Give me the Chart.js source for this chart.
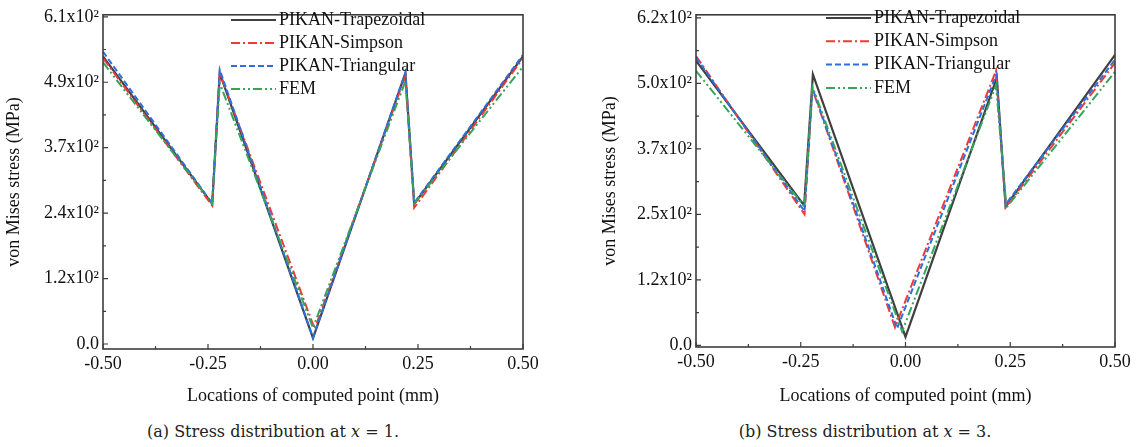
<!DOCTYPE html>
<html lang="en">
<head>
<meta charset="UTF-8">
<title>Stress distribution</title>
<style>
  body { margin: 0; background: #fff; }
  #wrap { position: relative; width: 1140px; height: 447px; }
  .box { position: absolute; top: 0; width: 570px; height: 410px; }
  .cap {
    position: absolute; top: 422px;
    font-family: 'DejaVu Serif', serif; font-size: 16px; color: #222;
    white-space: nowrap; transform: translateX(-50%);
  }
</style>
<script src="https://cdn.jsdelivr.net/npm/chart.js@4.4.3/dist/chart.umd.min.js"></script>
</head>
<body>
<div id="wrap">
  <div class="box" style="left:0"><canvas id="chartA"></canvas></div>
  <div class="box" style="left:570px"><canvas id="chartB"></canvas></div>
  <div class="cap" style="left:273px">(a) Stress distribution at <i>x</i> = 1.</div>
  <div class="cap" style="left:865px">(b) Stress distribution at <i>x</i> = 3.</div>
</div>
<script>
// shared axis / legend text
const seriesNames = ['PIKAN-Trapezoidal', 'PIKAN-Simpson', 'PIKAN-Triangular', 'FEM'];
const xTicks = [-0.5, -0.25, 0, 0.25, 0.5];
const xTickLabels = ['-0.50', '-0.25', '0.00', '0.25', '0.50'];

// (a) x = 1
const aYTicks = [0, 122, 244, 366, 488, 610];
const aYLabels = ['0.0', '1.2x10²', '2.4x10²', '3.7x10²', '4.9x10²', '6.1x10²'];
const aTrapX = [-0.5, -0.24, -0.222, 0, 0.22, 0.241, 0.5];
const aTrapY = [536, 261, 505, 11, 505, 261, 536];
const aSimpX = [-0.5, -0.24, -0.222, 0.004, 0.22, 0.241, 0.5];
const aSimpY = [533, 258, 505, 28, 500, 254, 533];
const aTriX = [-0.5, -0.24, -0.222, 0, 0.22, 0.241, 0.5];
const aTriY = [545, 262, 511, 12, 506, 263, 539];
const aFemX = [-0.5, -0.24, -0.222, 0, 0.22, 0.241, 0.5];
const aFemY = [525, 262, 486, 30, 490, 262, 517];

// (b) x = 3
const bYTicks = [0, 124, 248, 372, 496, 620];
const bYLabels = ['0.0', '1.2x10²', '2.5x10²', '3.7x10²', '5.0x10²', '6.2x10²'];
const bTrapX = [-0.5, -0.242, -0.221, 0, 0.218, 0.239, 0.5];
const bTrapY = [539, 265, 513, 16, 507, 263, 550];
const bSimpX = [-0.5, -0.241, -0.222, -0.025, 0.216, 0.239, 0.5];
const bSimpY = [548, 248, 485, 34, 520, 261, 535];
const bTriX = [-0.5, -0.241, -0.222, -0.02, 0.217, 0.239, 0.5];
const bTriY = [545, 254, 487, 32, 513, 267, 541];
const bFemX = [-0.5, -0.241, -0.222, -0.008, 0.216, 0.241, 0.5];
const bFemY = [520, 263, 490, 26, 492, 261, 518];

const FONT = "'Liberation Serif', 'Times New Roman', serif";
const styles = [
  { color: '#404040', dash: [], width: 2.2, order: 4 },
  { color: '#ee3a3a', dash: [9, 3, 2, 3], width: 2, order: 3 },
  { color: '#2c6fe0', dash: [6, 3], width: 2, order: 2 },
  { color: '#34a55a', dash: [9, 3, 2, 3, 2, 3], width: 2, order: 1 }
];

// frame, inward ticks (major + minor) and the legend inside the plot
const boxPlugin = {
  id: 'box',
  afterDatasetsDraw(chart, args, opts) {
    const { ctx, chartArea: a } = chart;
    const xs = chart.scales.x, ys = chart.scales.y;
    ctx.save();
    ctx.strokeStyle = '#3c3c3c';
    ctx.lineWidth = 1.6;
    ctx.strokeRect(a.left, a.top, a.right - a.left, a.bottom - a.top);

    ctx.lineWidth = 1.2;
    ctx.beginPath();
    xs.ticks.forEach((t, i) => {
      const p = xs.getPixelForValue(t.value);
      ctx.moveTo(p, a.bottom); ctx.lineTo(p, a.bottom - 5);
      if (i < xs.ticks.length - 1) {
        const m = xs.getPixelForValue((t.value + xs.ticks[i + 1].value) / 2);
        ctx.moveTo(m, a.bottom); ctx.lineTo(m, a.bottom - 3);
      }
    });
    ys.ticks.forEach((t, i) => {
      const p = ys.getPixelForValue(t.value);
      ctx.moveTo(a.left, p); ctx.lineTo(a.left + 5, p);
      if (i < ys.ticks.length - 1) {
        const m = ys.getPixelForValue((t.value + ys.ticks[i + 1].value) / 2);
        ctx.moveTo(a.left, m); ctx.lineTo(a.left + 3, m);
      }
    });
    ctx.stroke();

    // legend
    ctx.font = '18px ' + FONT;
    ctx.textBaseline = 'middle';
    ctx.fillStyle = '#111';
    chart.data.datasets.forEach((ds, i) => {
      const y = opts.y + i * opts.gap;
      ctx.beginPath();
      ctx.strokeStyle = ds.borderColor;
      ctx.lineWidth = ds.borderWidth;
      ctx.setLineDash(ds.borderDash);
      ctx.moveTo(opts.x, y); ctx.lineTo(opts.x + 45, y);
      ctx.stroke();
      ctx.setLineDash([]);
      ctx.fillText(ds.label, opts.x + 48, y);
    });
    ctx.restore();
  }
};

function makeSets(xsList, ysList) {
  return xsList.map((xv, k) => ({
    label: seriesNames[k],
    data: xv.map((x, i) => ({ x: x, y: ysList[k][i] })),
    borderColor: styles[k].color,
    borderDash: styles[k].dash,
    borderWidth: styles[k].width,
    order: styles[k].order,
    pointRadius: 0,
    fill: false,
    tension: 0
  }));
}

function makeChart(id, sets, yTicks, yLabels, yMin, yMax, pad, yWidth, xHeight, yTitlePad, legend) {
  return new Chart(document.getElementById(id), {
    type: 'line',
    data: { datasets: sets },
    plugins: [boxPlugin],
    options: {
      responsive: true,
      maintainAspectRatio: false,
      animation: false,
      layout: { padding: pad },
      plugins: {
        legend: { display: false },
        tooltip: { enabled: false },
        box: legend
      },
      scales: {
        x: {
          type: 'linear', min: -0.5, max: 0.5,
          border: { display: false },
          grid: { display: false, drawTicks: false },
          afterBuildTicks: s => { s.ticks = xTicks.map(v => ({ value: v })); },
          afterFit: s => { s.height = xHeight; },
          ticks: {
            autoSkip: false, maxRotation: 0, padding: 4, color: '#111',
            font: { family: FONT, size: 18 },
            callback: v => xTickLabels[xTicks.indexOf(v)]
          },
          title: {
            display: true, text: 'Locations of computed point (mm)', color: '#111',
            font: { family: FONT, size: 18 }, padding: { top: 0, bottom: 3 }
          }
        },
        y: {
          type: 'linear', min: yMin, max: yMax,
          border: { display: false },
          grid: { display: false, drawTicks: false },
          afterBuildTicks: s => { s.ticks = yTicks.map(v => ({ value: v })); },
          afterFit: s => { s.width = yWidth; },
          ticks: {
            autoSkip: false, padding: 4, color: '#111',
            font: { family: FONT, size: 18 },
            callback: v => yLabels[yTicks.indexOf(v)]
          },
          title: {
            display: true, text: 'von Mises stress (MPa)', color: '#111',
            font: { family: FONT, size: 18 }, padding: { top: yTitlePad, bottom: 0 }
          }
        }
      }
    }
  });
}

makeChart('chartA',
  makeSets([aTrapX, aSimpX, aTriX, aFemX], [aTrapY, aSimpY, aTriY, aFemY]),
  aYTicks, aYLabels, -9.3, 613.7,
  { left: 0, right: 47, top: 13, bottom: 0 }, 103, 61, 3,
  { x: 231, y: 20, gap: 23 });

makeChart('chartB',
  makeSets([bTrapX, bSimpX, bTriX, bFemX], [bTrapY, bSimpY, bTriY, bFemY]),
  bYTicks, bYLabels, -3.2, 626,
  { left: 22, right: 25, top: 12, bottom: 0 }, 104, 63, 7,
  { x: 256, y: 18, gap: 23.3 });
</script>
</body>
</html>
